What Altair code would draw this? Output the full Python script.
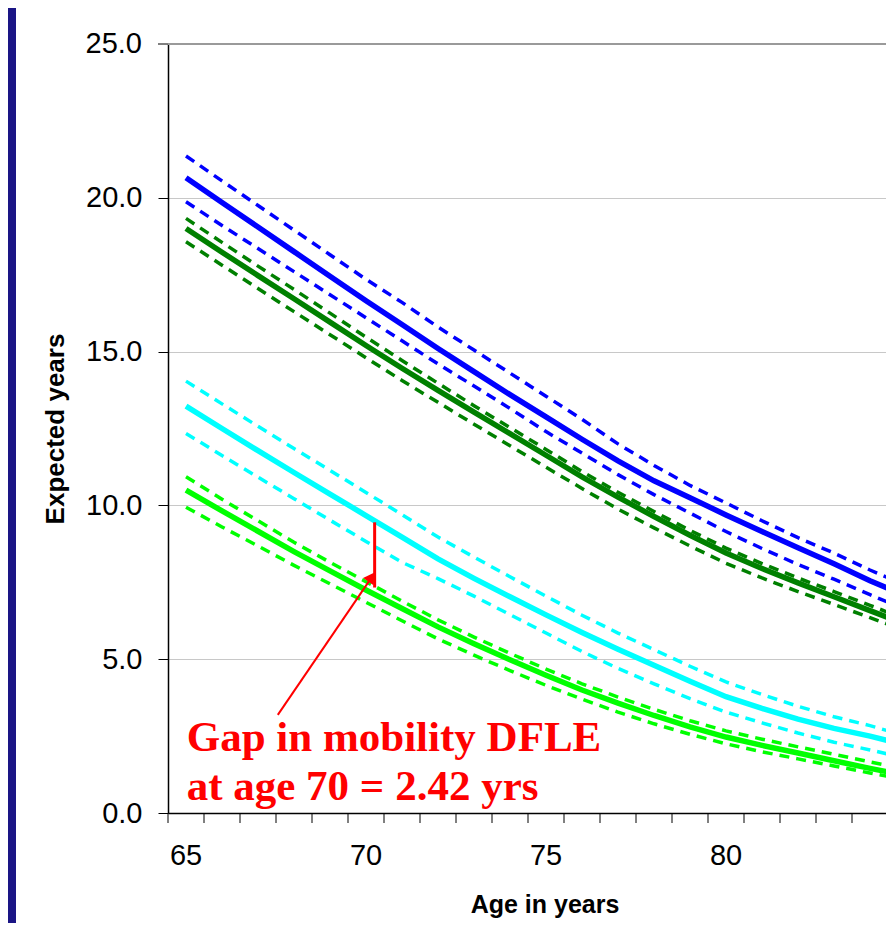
import altair as alt
import pandas as pd

ages = list(range(65, 86))

blue_est = [20.65, 19.85, 19.05, 18.25, 17.45, 16.65, 15.88, 15.10, 14.35, 13.60, 12.88,
            12.15, 11.45, 10.80, 10.25, 9.69, 9.15, 8.62, 8.10, 7.55, 7.05]
blue_hi = [21.36, 20.55, 19.75, 18.95, 18.15, 17.35, 16.60, 15.80, 15.05, 14.30, 13.55,
           12.80, 12.00, 11.30, 10.65, 10.08, 9.50, 8.95, 8.45, 7.90, 7.40]
blue_lo = [19.87, 19.10, 18.35, 17.60, 16.85, 16.10, 15.35, 14.60, 13.88, 13.15, 12.40,
           11.70, 11.00, 10.35, 9.75, 9.15, 8.60, 8.08, 7.60, 7.10, 6.60]

dgreen_est = [19.00, 18.23, 17.47, 16.72, 15.96, 15.20, 14.46, 13.74, 13.03, 12.33, 11.63,
              10.93, 10.27, 9.64, 9.03, 8.45, 7.95, 7.48, 7.03, 6.58, 6.13]
dgreen_hi = [19.33, 18.55, 17.78, 17.02, 16.25, 15.47, 14.71, 13.97, 13.24, 12.53, 11.82,
             11.10, 10.43, 9.80, 9.19, 8.61, 8.11, 7.64, 7.20, 6.75, 6.30]
dgreen_lo = [18.57, 17.81, 17.05, 16.30, 15.55, 14.80, 14.06, 13.35, 12.64, 11.94, 11.24,
             10.55, 9.88, 9.27, 8.68, 8.12, 7.64, 7.20, 6.78, 6.35, 5.92]

cyan_est = [13.23, 12.50, 11.78, 11.07, 10.37, 9.67, 8.97, 8.26, 7.63, 7.03, 6.44,
            5.87, 5.32, 4.80, 4.28, 3.78, 3.40, 3.05, 2.75, 2.50, 2.20]
cyan_hi = [14.04, 13.30, 12.57, 11.85, 11.14, 10.42, 9.70, 8.97, 8.32, 7.68, 7.05,
           6.43, 5.85, 5.31, 4.77, 4.26, 3.85, 3.47, 3.13, 2.84, 2.50]
cyan_lo = [12.34, 11.62, 10.92, 10.22, 9.52, 8.83, 8.15, 7.62, 7.05, 6.45, 5.85,
           5.25, 4.70, 4.20, 3.72, 3.28, 2.93, 2.60, 2.30, 2.05, 1.78]

lime_est = [10.50, 9.82, 9.16, 8.50, 7.87, 7.25, 6.65, 6.05, 5.50, 4.98, 4.48,
            4.00, 3.57, 3.17, 2.80, 2.47, 2.20, 1.95, 1.70, 1.45, 1.22]
lime_hi = [10.93, 10.20, 9.50, 8.80, 8.15, 7.52, 6.89, 6.28, 5.72, 5.19, 4.68,
           4.20, 3.77, 3.37, 3.00, 2.67, 2.40, 2.15, 1.91, 1.66, 1.43]
lime_lo = [9.94, 9.30, 8.68, 8.05, 7.45, 6.85, 6.25, 5.66, 5.13, 4.63, 4.15,
           3.70, 3.28, 2.90, 2.56, 2.25, 1.99, 1.76, 1.53, 1.30, 1.08]

groups = ["blue", "dgreen", "cyan", "lime"]
group_colors = ["#0000FF", "#008000", "#00FFFF", "#00FF00"]
series = {
    ("blue", "est"): blue_est, ("blue", "hi"): blue_hi, ("blue", "lo"): blue_lo,
    ("dgreen", "est"): dgreen_est, ("dgreen", "hi"): dgreen_hi, ("dgreen", "lo"): dgreen_lo,
    ("cyan", "est"): cyan_est, ("cyan", "hi"): cyan_hi, ("cyan", "lo"): cyan_lo,
    ("lime", "est"): lime_est, ("lime", "hi"): lime_hi, ("lime", "lo"): lime_lo,
}

rows = []
for (g, k), vals in series.items():
    for a, v in zip(ages, vals):
        rows.append({"age": a, "value": v, "group": g, "kind": k, "line": g + "_" + k})
df = pd.DataFrame(rows)

x_tick_labels = [65, 70, 75, 80]
x_tick_marks = [64.5 + i for i in range(20)]   # category boundaries

# annotation data
note_lines = ["Gap in mobility DFLE", "at age 70 = 2.42 yrs"]
note_age = [65.02, 65.02]
note_val = [2.02, 0.42]
gap_age = 70.24
gap_top = 9.45
gap_bottom = 7.33
arrow_from = (67.55, 3.19)
arrow_to = (70.18, 7.70)
head_pos = (70.15, 7.67)

navy = "#1A1585"
red = "#FF0000"

PLOT_W, PLOT_H = 718, 769
x_min = 64.5
x_max = 64.5 + PLOT_W / 36.0   # the plot continues past the right edge of the picture
x_scale = alt.Scale(domain=[x_min, x_max], nice=False, zero=False)
y_scale = alt.Scale(domain=[0, 25], nice=False, zero=True)

x_axis = alt.Axis(
    labels=False, ticks=False, title=None,
    domainColor="black", domainWidth=1.5, grid=False,
)
y_axis = alt.Axis(
    values=[0, 5, 10, 15, 20], format=".1f",
    tickSize=10, tickColor="black", tickWidth=1,
    domainColor="black", domainWidth=1.5,
    grid=True, gridColor="#C8C8C8", gridWidth=1,
    labelFont="Liberation Sans", labelFontSize=29, labelColor="black", labelPadding=16,
    title="Expected years", titleFont="Liberation Sans", titleFontSize=26,
    titleFontWeight="bold", titleColor="black", titlePadding=17,
)

color_scale = alt.Scale(domain=groups, range=group_colors)

base = alt.Chart(df).encode(
    x=alt.X("age:Q", scale=x_scale, axis=x_axis),
    y=alt.Y("value:Q", scale=y_scale, axis=y_axis),
    color=alt.Color("group:N", scale=color_scale, legend=None),
    detail="line:N",
)

dashed = base.transform_filter(alt.datum.kind != "est").mark_line(
    strokeWidth=3.5, strokeDash=[10, 7], clip=True
)
solid = base.transform_filter(alt.datum.kind == "est").mark_line(strokeWidth=5.5, clip=True)

# top value of the y axis (25.0) with its tick, drawn with a darker border line
top_df = pd.DataFrame({"y": [25.0], "lab": ["25.0"]})
top_line = alt.Chart(top_df).mark_rule(color="#9A9A9A", strokeWidth=2).encode(
    y=alt.Y("y:Q", scale=y_scale)
)
top_tick = alt.Chart(top_df).mark_rule(color="black", strokeWidth=1).encode(
    y=alt.Y("y:Q", scale=y_scale), x=alt.value(-10), x2=alt.value(0)
)
top_label = alt.Chart(top_df).mark_text(
    align="right", baseline="middle", font="Liberation Sans", fontSize=29,
    color="black", dx=-26
).encode(y=alt.Y("y:Q", scale=y_scale), x=alt.value(0), text="lab:N")

# x tick marks at category boundaries
xtick_df = pd.DataFrame({"age": x_tick_marks})
x_ticks = alt.Chart(xtick_df).mark_rule(color="black", strokeWidth=1).encode(
    x=alt.X("age:Q", scale=x_scale), y=alt.value(PLOT_H), y2=alt.value(PLOT_H + 10)
)

# x tick labels (centred on the categories) and x title
xlab_df = pd.DataFrame({"age": x_tick_labels, "lab": [str(v) for v in x_tick_labels]})
x_labels = alt.Chart(xlab_df).mark_text(
    align="center", baseline="middle", font="Liberation Sans", fontSize=29,
    color="black", dy=43
).encode(x=alt.X("age:Q", scale=x_scale), y=alt.value(PLOT_H), text="lab:N")

xtitle_df = pd.DataFrame({"t": ["Age in years"]})
x_title = alt.Chart(xtitle_df).mark_text(
    align="center", baseline="middle", font="Liberation Sans", fontSize=25,
    fontWeight="bold", color="black", dy=92
).encode(x=alt.value(377), y=alt.value(PLOT_H), text="t:N")

gap_df = pd.DataFrame({"x": [gap_age], "y": [gap_top], "y2": [gap_bottom]})
gap_rule = alt.Chart(gap_df).mark_rule(color=red, strokeWidth=3).encode(
    x="x:Q", y="y:Q", y2="y2:Q"
)

arrow_df = pd.DataFrame({"x": [arrow_from[0]], "y": [arrow_from[1]],
                         "x2": [arrow_to[0]], "y2": [arrow_to[1]]})
arrow_rule = alt.Chart(arrow_df).mark_rule(color=red, strokeWidth=2).encode(
    x="x:Q", y="y:Q", x2="x2:Q", y2="y2:Q"
)
head_df = pd.DataFrame({"x": [head_pos[0]], "y": [head_pos[1]]})
arrow_head = alt.Chart(head_df).mark_point(
    shape="triangle-up", filled=True, color=red, opacity=1, size=160, angle=34
).encode(x="x:Q", y="y:Q")

note_df = pd.DataFrame({"x": note_age, "y": note_val, "t": note_lines})
note = alt.Chart(note_df).mark_text(
    align="left", baseline="alphabetic", font="Liberation Serif",
    fontWeight="bold", fontSize=43, color=red
).encode(x="x:Q", y="y:Q", text="t:N")

frame = alt.Chart(pd.DataFrame({"k": [0]})).mark_rect(color=navy).encode(
    x=alt.value(-160), x2=alt.value(-152), y=alt.value(-36), y2=alt.value(900)
)

chart = alt.layer(
    frame, top_line, top_tick, top_label, dashed, solid,
    gap_rule, arrow_rule, arrow_head, note, x_ticks, x_labels, x_title
).properties(
    width=PLOT_W, height=PLOT_H,
    autosize=alt.AutoSizeParams(type="none"),
    padding={"left": 160, "top": 36, "right": 0, "bottom": 110},
    background="white",
).configure_view(strokeWidth=0)

chart.save("out.html", embed_options={"renderer": "svg", "actions": False})
